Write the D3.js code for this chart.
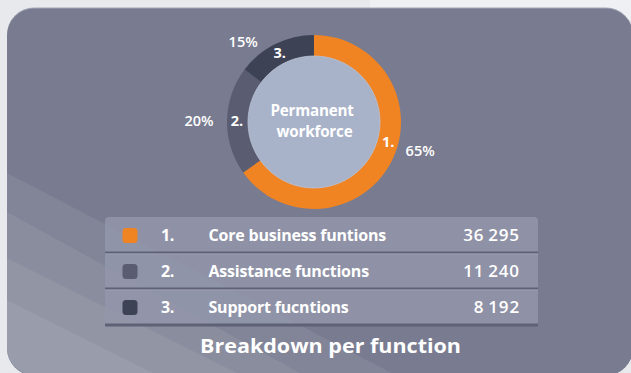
<!DOCTYPE html>
<html>
<head>
<meta charset="utf-8">
<script src="https://cdn.jsdelivr.net/npm/d3@7"></script>
<style>
  html, body { margin: 0; padding: 0; background: #e9eaee; }
  svg { display: block; }
</style>
</head>
<body>
<svg id="chart" width="631" height="373"></svg>
<script>
// ---- data ----
const categories = ["Core business funtions", "Assistance functions", "Support fucntions"];
const numbers = ["1.", "2.", "3."];
const counts = [36295, 11240, 8192];
const percents = [65, 20, 15];
const centerLabel = ["Permanent", "workforce"];
const title = "Breakdown per function";

// ---- style ----
const colors = ["#f08322", "#5a5d72", "#3d4254"];
const W = 631, H = 373;
const svg = d3.select("#chart");

// background
svg.append("rect").attr("width", W).attr("height", H).attr("fill", "#e8e9ed");
svg.append("rect").attr("x", 370).attr("width", W - 370).attr("height", 20).attr("fill", "#eff0f3");

// card
const defs = svg.append("defs");
defs.append("clipPath").attr("id", "cardClip")
  .append("rect").attr("x", 7).attr("y", 8).attr("width", 626).attr("height", 367).attr("rx", 27);
svg.append("rect").attr("x", 7).attr("y", 7.5).attr("width", 626).attr("height", 367.5).attr("rx", 27)
  .attr("fill", "#a3a6b6");
svg.append("rect").attr("x", 7).attr("y", 8.5).attr("width", 626).attr("height", 367).attr("rx", 27)
  .attr("fill", "#797c90");

// diagonal light bands in lower-left
const bands = svg.append("g").attr("clip-path", "url(#cardClip)");
const bandLines = [[173, 0.52, 0.07], [212, 0.55, 0.07], [258, 0.5, 0.07], [300, 0.5, 0.07]];
bandLines.forEach(([y0, s, op]) => {
  const x1 = 700;
  bands.append("path")
    .attr("d", `M0,${y0 - 7 * s} L${x1},${y0 + (x1 - 7) * s} L${x1},${H + 400} L0,${H + 400} Z`)
    .attr("fill", "#ffffff").attr("fill-opacity", op);
});

// ---- donut ----
const cx = 314, cy = 122, R = 87, r = 66;
const pie = d3.pie().sort(null).value(d => d);
const arcs = pie(counts);
const arc = d3.arc().innerRadius(r - 2).outerRadius(R);
const g = svg.append("g").attr("transform", `translate(${cx},${cy})`);
g.selectAll("path.seg").data(arcs).join("path")
  .attr("class", "seg")
  .attr("d", arc)
  .attr("fill", (d, i) => colors[i]);
g.append("circle").attr("r", r).attr("fill", "#a8b2c8")
  .attr("stroke", "#b9c1d4").attr("stroke-width", 0.8);

g.selectAll("text.center").data(centerLabel).join("text")
  .attr("class", "center")
  .attr("x", (d, i) => i === 0 ? -2 : 0.5)
  .attr("y", (d, i) => -6.5 + i * 21)
  .attr("text-anchor", "middle")
  .attr("font-family", "Open Sans, sans-serif").attr("font-weight", 700)
  .attr("font-size", 15.2).attr("fill", "#ffffff")
  .attr("letter-spacing", -0.2)
  .text(d => d);

const numAngleShift = [-12, 0, 0];
const pctAngleShift = [-12, 0, -15];
const pctRadius = [110, 115, 107];
const polar = (deg, rad) => [Math.sin(deg * Math.PI / 180) * rad, -Math.cos(deg * Math.PI / 180) * rad];
const midDeg = d => (d.startAngle + d.endAngle) / 2 * 180 / Math.PI;

g.selectAll("text.num").data(arcs).join("text")
  .attr("class", "num")
  .attr("transform", (d, i) => {
    const [x, y] = polar(midDeg(d) + numAngleShift[i], (R + r) / 2 + 0.5);
    return `translate(${x},${y})`;
  })
  .attr("dy", "0.36em")
  .attr("text-anchor", "middle")
  .attr("font-family", "Open Sans, sans-serif").attr("font-weight", 700)
  .attr("font-size", 14.5).attr("fill", "#ffffff")
  .text((d, i) => numbers[i]);

g.selectAll("text.pct").data(arcs).join("text")
  .attr("class", "pct")
  .attr("transform", (d, i) => {
    const [x, y] = polar(midDeg(d) + pctAngleShift[i], pctRadius[i]);
    return `translate(${x},${y})`;
  })
  .attr("dy", "0.36em")
  .attr("text-anchor", "middle")
  .attr("font-family", "Open Sans, sans-serif").attr("font-weight", 600)
  .attr("font-size", 14.5).attr("fill", "#ffffff")
  .text((d, i) => percents[i] + "%");

// ---- table ----
const tx0 = 105, tx1 = 538;
const y = d3.scaleBand().domain(d3.range(categories.length)).range([217, 325]).paddingInner(0);
const table = svg.append("g");
table.append("path")
  .attr("d", `M${tx0},${y(0) + 4} Q${tx0},${y(0)} ${tx0 + 4},${y(0)} L${tx1 - 4},${y(0)} Q${tx1},${y(0)} ${tx1},${y(0) + 4} L${tx1},${y.range()[1]} L${tx0},${y.range()[1]} Z`)
  .attr("fill", "#9396aa").attr("fill-opacity", 0.85);

const rows = table.selectAll("g.row").data(categories).join("g")
  .attr("class", "row")
  .attr("transform", (d, i) => `translate(0,${y(i)})`);
const bh = y.bandwidth();
// separators
rows.append("rect").attr("x", tx0).attr("y", bh - 1.5).attr("width", tx1 - tx0)
  .attr("height", (d, i) => i === categories.length - 1 ? 3 : 2)
  .attr("fill", "#5f6276");
rows.append("rect").attr("x", tx0).attr("y", bh + 0.5).attr("width", tx1 - tx0).attr("height", 0.8)
  .attr("fill", "#b0b3c2").attr("fill-opacity", (d, i) => i === categories.length - 1 ? 0 : 0.6);

rows.append("rect").attr("x", 122.5).attr("y", 11).attr("width", 15).attr("height", 15).attr("rx", 3.5)
  .attr("fill", (d, i) => colors[i]);
rows.append("text").attr("x", 161).attr("y", 23.8)
  .attr("font-family", "Open Sans, sans-serif").attr("font-weight", 700)
  .attr("font-size", 16).attr("fill", "#ffffff").attr("letter-spacing", -0.4)
  .text((d, i) => numbers[i]);
rows.append("text").attr("x", 208.5).attr("y", 23.8)
  .attr("font-family", "Open Sans, sans-serif").attr("font-weight", 700)
  .attr("font-size", 16).attr("fill", "#ffffff").attr("letter-spacing", -0.2)
  .text(d => d);
const fmt = v => d3.format(",")(v).replace(/,/g, "\u2009");
rows.append("text").attr("x", 520).attr("y", 24)
  .attr("text-anchor", "end")
  .attr("font-family", "Open Sans, sans-serif").attr("font-weight", 600)
  .attr("font-size", 17).attr("fill", "#ffffff").attr("letter-spacing", 0.9)
  .text((d, i) => fmt(counts[i]));

// ---- title ----
svg.append("text").attr("x", 330.5).attr("y", 353)
  .attr("text-anchor", "middle")
  .attr("font-family", "Open Sans, sans-serif").attr("font-weight", 700)
  .attr("font-size", 20).attr("fill", "#ffffff")
  .attr("textLength", 261).attr("lengthAdjust", "spacingAndGlyphs")
  .text(title);
</script>
</body>
</html>
